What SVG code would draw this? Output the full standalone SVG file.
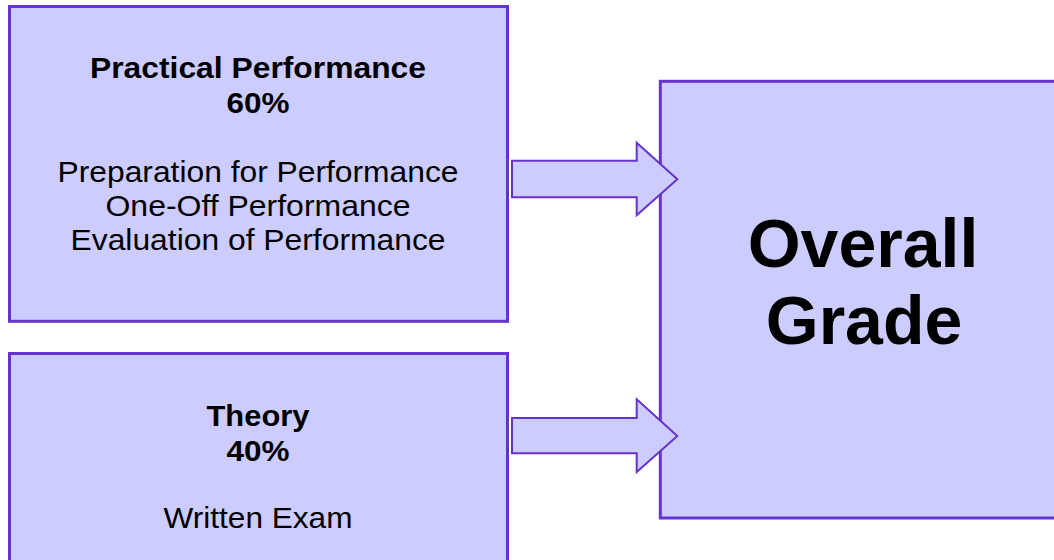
<svg xmlns="http://www.w3.org/2000/svg" width="1054" height="560" viewBox="0 0 1054 560">
<style>
.box{fill:#CCCCFF;stroke:#6633CC;stroke-width:3}
.arrow{fill:#CCCCFF;stroke:#6633CC;stroke-width:2;stroke-linejoin:miter}
text{font-family:"Liberation Sans",Arial,sans-serif;fill:#000;text-anchor:middle}
.b{font-weight:bold;font-size:30px}
.r{font-size:30px}
.big{font-weight:bold;font-size:68px}
</style>
<rect width="1054" height="560" fill="#FFFFFF"/>
<g id="practical">
<rect class="box" x="9.5" y="6.5" width="498" height="314.8"/>
<text class="b" x="258" y="78.3" textLength="336" lengthAdjust="spacingAndGlyphs">Practical Performance</text>
<text class="b" x="258" y="113.3" textLength="63" lengthAdjust="spacingAndGlyphs">60%</text>
<text class="r" x="258" y="182" textLength="401" lengthAdjust="spacingAndGlyphs">Preparation for Performance</text>
<text class="r" x="258" y="216" textLength="305" lengthAdjust="spacingAndGlyphs">One-Off Performance</text>
<text class="r" x="258" y="250" textLength="375" lengthAdjust="spacingAndGlyphs">Evaluation of Performance</text>
</g>
<g id="theory">
<rect class="box" x="9.5" y="353.5" width="498" height="260"/>
<text class="b" x="258" y="425.7" textLength="103" lengthAdjust="spacingAndGlyphs">Theory</text>
<text class="b" x="258" y="460.5" textLength="63" lengthAdjust="spacingAndGlyphs">40%</text>
<text class="r" x="258" y="528.3" textLength="189" lengthAdjust="spacingAndGlyphs">Written Exam</text>
</g>
<g id="overall">
<rect class="box" x="660.3" y="81.3" width="420" height="436.7"/>
<text class="big" x="863" y="267">Overall</text>
<text class="big" x="864" y="344">Grade</text>
</g>
<g id="connectors">
<polygon class="arrow" points="512,160.7 636.7,160.7 636.7,142.7 677.3,179.3 636.7,215.3 636.7,197.3 512,197.3"/>
<polygon class="arrow" points="512,418 636.7,418 636.7,399.3 677.3,436 636.7,472 636.7,453.3 512,453.3"/>
</g>
</svg>
